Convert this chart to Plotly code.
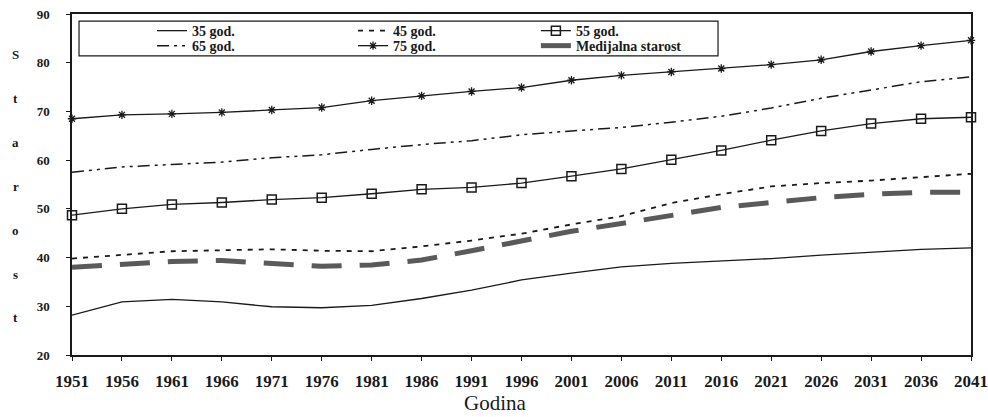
import plotly.graph_objects as go

years = [1951, 1956, 1961, 1966, 1971, 1976, 1981, 1986, 1991, 1996,
         2001, 2006, 2011, 2016, 2021, 2026, 2031, 2036, 2041]
god35 = [28.2, 30.9, 31.4, 30.9, 29.9, 29.7, 30.2, 31.6, 33.3, 35.4,
         36.8, 38.1, 38.8, 39.3, 39.8, 40.5, 41.1, 41.7, 42.0]
god45 = [39.8, 40.5, 41.3, 41.5, 41.7, 41.4, 41.3, 42.3, 43.5, 44.9,
         46.8, 48.5, 51.2, 53.0, 54.6, 55.3, 55.8, 56.5, 57.2]
god55 = [48.7, 50.0, 50.9, 51.3, 51.9, 52.3, 53.1, 54.0, 54.4, 55.3,
         56.7, 58.2, 60.1, 62.0, 64.1, 66.0, 67.5, 68.5, 68.8]
god65 = [57.5, 58.6, 59.1, 59.6, 60.5, 61.1, 62.2, 63.2, 64.0, 65.2,
         66.0, 66.7, 67.8, 69.0, 70.7, 72.7, 74.4, 76.1, 77.1]
god75 = [68.5, 69.3, 69.5, 69.8, 70.3, 70.8, 72.2, 73.2, 74.1, 74.9,
         76.4, 77.4, 78.1, 78.8, 79.6, 80.6, 82.3, 83.5, 84.6]
median = [38.0, 38.5, 39.2, 39.4, 38.7, 38.2, 38.5, 39.5, 41.4, 43.3,
          45.4, 47.0, 48.6, 50.3, 51.3, 52.3, 53.0, 53.4, 53.4]

ylabel_letters = ["S", "t", "a", "r", "o", "s", "t"]
xlabel = "Godina"

FONT = "Liberation Serif"
INK = "#1a1a1a"

fig = go.Figure()
fig.add_trace(go.Scatter(x=years, y=god35, name="35 god.", mode="lines",
                         line=dict(color=INK, width=1.3), legend="legend"))
fig.add_trace(go.Scatter(x=years, y=god45, name="45 god.", mode="lines",
                         line=dict(color=INK, width=1.8, dash="5px,6px"), legend="legend2"))
fig.add_trace(go.Scatter(x=years, y=god55, name="55 god.", mode="lines+markers",
                         line=dict(color=INK, width=1.3),
                         marker=dict(symbol="square-open", size=9, color=INK,
                                     line=dict(width=1.5, color=INK)),
                         cliponaxis=False, legend="legend3"))
fig.add_trace(go.Scatter(x=years, y=god65, name="65 god.", mode="lines",
                         line=dict(color=INK, width=1.5, dash="12px,5px,3px,5px,3px,5px"),
                         legend="legend4"))
fig.add_trace(go.Scatter(x=years, y=god75, name="75 god.", mode="lines+markers",
                         line=dict(color=INK, width=1.3),
                         marker=dict(symbol="asterisk-open", size=7, color=INK,
                                     line=dict(width=1.3, color=INK)),
                         cliponaxis=False, legend="legend5"))
fig.add_trace(go.Scatter(x=years, y=median, name="Medijalna starost", mode="lines",
                         line=dict(color="#5a5a5a", width=5, dash="30px,18px"),
                         legend="legend6"))

annotations = []
for i, ch in enumerate(ylabel_letters):
    annotations.append(dict(text=ch, xref="paper", yref="paper",
                            x=-0.0623, y=0.88 - i * 0.1285, showarrow=False,
                            xanchor="center", yanchor="middle",
                            font=dict(family=FONT, size=13, color=INK, weight="bold")))
annotations.append(dict(text=xlabel, xref="paper", yref="paper", x=0.4716, y=-0.141,
                        showarrow=False, xanchor="center", yanchor="middle",
                        font=dict(family=FONT, size=21, color=INK)))


def leg(x, y):
    return dict(orientation="h", x=x, y=y, xanchor="left", yanchor="middle",
                font=dict(family=FONT, size=14, color=INK, weight="bold"),
                bgcolor="rgba(0,0,0,0)", borderwidth=0, itemwidth=30)


col_x = [0.089, 0.3126, 0.516]
row_y = [0.950, 0.906]

fig.update_layout(
    width=988, height=417,
    margin=dict(l=72, r=17, t=14, b=62),
    paper_bgcolor="white", plot_bgcolor="white",
    font=dict(family=FONT, color=INK),
    showlegend=True,
    legend=leg(col_x[0], row_y[0]),
    legend2=leg(col_x[1], row_y[0]),
    legend3=leg(col_x[2], row_y[0]),
    legend4=leg(col_x[0], row_y[1]),
    legend5=leg(col_x[1], row_y[1]),
    legend6=leg(col_x[2], row_y[1]),
    xaxis=dict(range=[1951, 2041], tickvals=years, ticktext=[str(y) for y in years],
               showgrid=False, zeroline=False, showline=True, linecolor=INK, linewidth=1.5,
               mirror=True, ticks="outside", ticklen=4, tickcolor=INK,
               ticklabelstandoff=6, automargin=False,
               tickfont=dict(family=FONT, size=17, color=INK, weight="bold")),
    yaxis=dict(range=[20, 90], dtick=10, showgrid=False, zeroline=False,
               showline=True, linecolor=INK, linewidth=1.5, mirror=True,
               ticks="outside", ticklen=4, tickcolor=INK,
               ticklabelstandoff=14, automargin=False,
               tickfont=dict(family=FONT, size=13, color=INK, weight="bold")),
    annotations=annotations,
    shapes=[dict(type="rect", xref="paper", yref="paper",
                 x0=0.0078, x1=0.7186, y0=0.877, y1=0.979,
                 line=dict(color=INK, width=1.2), fillcolor="rgba(0,0,0,0)")],
)

fig.write_html("out.html", config={"displayModeBar": False},
               post_script="document.body.style.margin='0';")
